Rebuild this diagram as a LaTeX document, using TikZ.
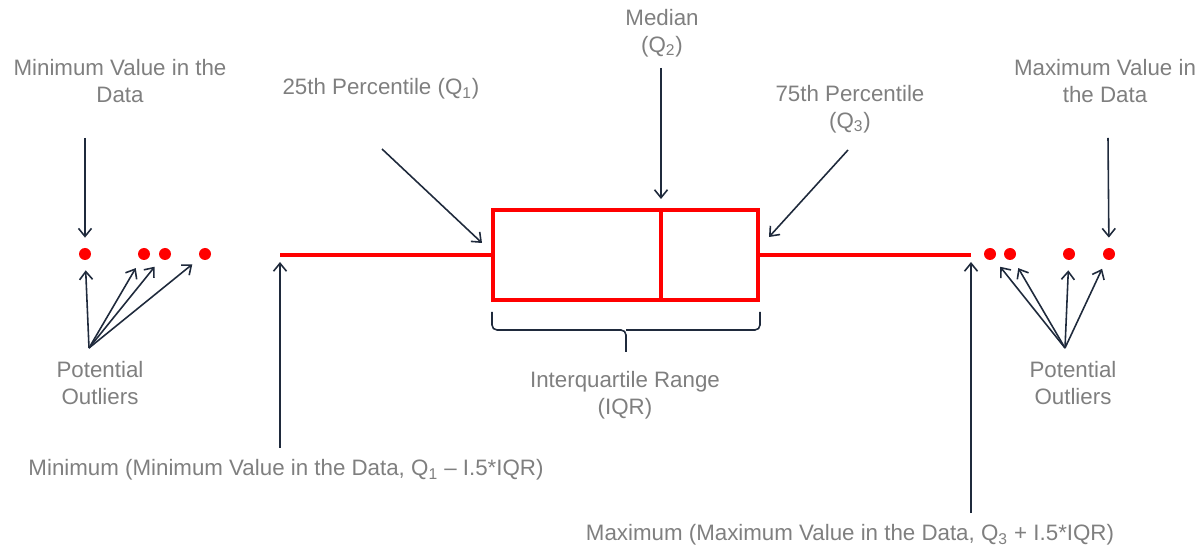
\documentclass[tikz,border=0pt]{standalone}
\usepackage{fontspec}
\setmainfont{Liberation Sans}
\usepackage{xcolor}
\usetikzlibrary{arrows.meta}

\definecolor{labelgray}{HTML}{7F7F7F}
\definecolor{arrownavy}{HTML}{1F2A3C}
\definecolor{boxred}{HTML}{FF0000}

\begin{document}
\begin{tikzpicture}[x=0.02cm,y=-0.02cm]
                \useasboundingbox (0,0) rectangle (1203,553);

                \begin{scope}[every node/.style = {text=labelgray, align=center, inner sep=0pt,
                                                   font=\fontsize{12.7}{15.4}\selectfont}]
                    \node (MinV) at (120,81)  {Minimum Value in the\\Data};
                    \node (QA)   at (381,89)  {25th Percentile (Q\textsubscript{1})};
                    \node (Med)  at (662,33)  {Median\\(Q\textsubscript{2})};
                    \node (QC)   at (850,109) {75th Percentile\\(Q\textsubscript{3})};
                    \node (MaxV) at (1105,81) {Maximum Value in\\the Data};
                    \node (POL)  at (100,383) {Potential\\Outliers};
                    \node (POR)  at (1073,383) {Potential\\Outliers};
                    \node (IQR)  at (625,395) {Interquartile Range\\(IQR)};
                    \node (Lo)   at (286,470) {Minimum (Minimum Value in the Data, Q\textsubscript{1} -- I.5*IQR)};
                    \node (Hi)   at (850,535) {Maximum (Maximum Value in the Data, Q\textsubscript{3} + I.5*IQR)};
                \end{scope}

                \begin{scope}[every node/.style = {circle, fill=boxred, inner sep=0pt, minimum size=0.24cm}]
                    \node (O1) at (85,254)   {};
                    \node (O2) at (144,254)  {};
                    \node (O3) at (165,254)  {};
                    \node (O4) at (205,254)  {};
                    \node (O5) at (990,254)  {};
                    \node (O6) at (1010,254) {};
                    \node (O7) at (1069,254) {};
                    \node (O8) at (1109,254) {};
                \end{scope}

                % box and whiskers
                \begin{scope}[draw=boxred, line width=2.4pt]
                    \node[draw=boxred, line width=2.4pt, inner sep=0pt, minimum width=5.3cm,
                          minimum height=1.8cm] (Box) at (625.5,255) {};
                    \coordinate (WA) at (280,255);
                    \coordinate (WB) at (971,255);
                    \draw (WA) -- (Box.west);
                    \draw (Box.east) -- (WB);
                    \draw (661,210) -- (661,300);
                \end{scope}

                % tails and heads
                \coordinate (tMin) at (85,138);
                \coordinate (tMax) at (1108,138);
                \coordinate (tA)   at (382,149);
                \coordinate (hA)   at (482,243);
                \coordinate (tM)   at (661,68);
                \coordinate (hM)   at (661,199);
                \coordinate (tC)   at (848,150);
                \coordinate (hC)   at (769,237);
                \coordinate (sL)   at (89,348);
                \coordinate (sR)   at (1065,348);
                \coordinate (tLo)  at (280,448);
                \coordinate (hLo)  at (280,262);
                \coordinate (tHi)  at (971,513);
                \coordinate (hHi)  at (971,262);

                \begin{scope}[>={Straight Barb[length=1.6mm,width=2.6mm]},
                                every edge/.style={draw=arrownavy, line width=0.9pt}]
                    \path [->] (tMin) edge[shorten >=0.2cm] (O1);
                    \path [->] (tMax) edge[shorten >=0.2cm] (O8);
                    \path [->] (tA) edge (hA);
                    \path [->] (tM) edge (hM);
                    \path [->] (tC) edge (hC);
                    \path [->] (sL) edge[shorten >=0.2cm] (O1);
                    \path [->] (sL) edge[shorten >=0.2cm] (O2);
                    \path [->] (sL) edge[shorten >=0.2cm] (O3);
                    \path [->] (sL) edge[shorten >=0.2cm] (O4);
                    \path [->] (sR) edge[shorten >=0.2cm] (O5);
                    \path [->] (sR) edge[shorten >=0.2cm] (O6);
                    \path [->] (sR) edge[shorten >=0.2cm] (O7);
                    \path [->] (sR) edge[shorten >=0.2cm] (O8);
                    \path [->] (tLo) edge (hLo);
                    \path [->] (tHi) edge (hHi);
                \end{scope}

                % brace under the box
                \draw [arrownavy, line width=0.9pt, rounded corners=0.1cm]
                    (492,312) -- (492,330) -- (626,330) -- (626,352)
                    (760,312) -- (760,330) -- (626,330);
            \end{tikzpicture}
\end{document}
